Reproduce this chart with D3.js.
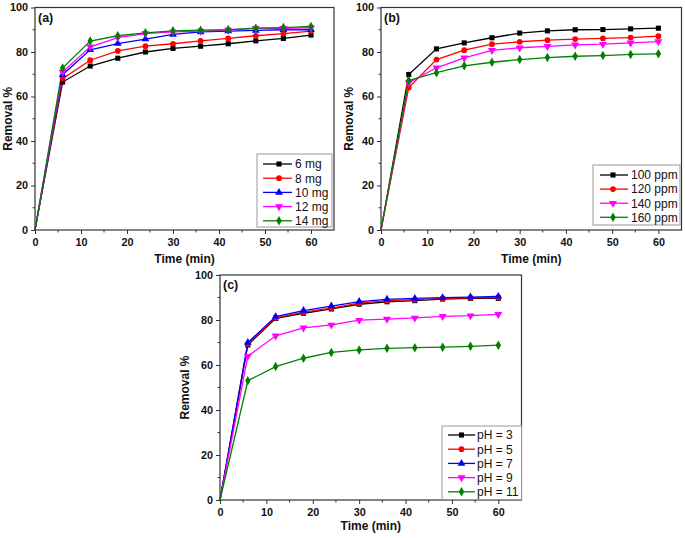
<!DOCTYPE html>
<html><head><meta charset="utf-8">
<script src="https://cdn.jsdelivr.net/npm/d3@7"></script>
<style>body{margin:0;background:#fff}svg{display:block}text{font-family:"Liberation Sans",Arial,sans-serif}</style>
</head><body>
<script>
const time = [0, 6, 12, 18, 24, 30, 36, 42, 48, 54, 60];
const xTicks = [0, 10, 20, 30, 40, 50, 60];
const yTicks = [0, 20, 40, 60, 80, 100];

// Panel (a): adsorbent dose
const labelsA = ["6 mg", "8 mg", "10 mg", "12 mg", "14 mg"];
const mg6  = [0, 66.5, 73.7, 77.2, 80.0, 81.6, 82.6, 83.7, 85.0, 86.1, 87.6];
const mg8  = [0, 68.0, 76.3, 80.5, 82.6, 83.7, 85.0, 86.1, 87.3, 88.3, 89.4];
const mg10 = [0, 69.8, 81.0, 83.8, 85.8, 87.9, 89.0, 89.4, 89.7, 90.0, 90.0];
const mg12 = [0, 71.0, 82.3, 86.5, 88.3, 89.0, 89.4, 89.8, 90.6, 90.6, 90.9];
const mg14 = [0, 72.8, 84.9, 87.3, 88.6, 89.5, 89.8, 90.1, 90.7, 91.0, 91.5];

// Panel (b): initial concentration
const labelsB = ["100 ppm", "120 ppm", "140 ppm", "160 ppm"];
const ppm100 = [0, 69.9, 81.4, 84.1, 86.4, 88.5, 89.5, 90.0, 90.1, 90.4, 90.7];
const ppm120 = [0, 64.0, 76.6, 80.8, 83.5, 84.6, 85.3, 85.8, 86.1, 86.5, 87.1];
const ppm140 = [0, 66.2, 72.9, 77.4, 80.7, 81.9, 82.5, 83.2, 83.5, 84.1, 84.7];
const ppm160 = [0, 67.2, 70.7, 73.8, 75.4, 76.6, 77.5, 78.1, 78.4, 78.9, 79.2];

// Panel (c): pH
const labelsC = ["pH = 3", "pH = 5", "pH = 7", "pH = 9", "pH = 11"];
const pH3  = [0, 68.9, 80.7, 83.0, 84.9, 87.0, 88.1, 88.6, 89.3, 89.6, 89.6];
const pH5  = [0, 69.4, 81.0, 83.5, 85.3, 87.5, 88.6, 89.0, 89.6, 89.8, 90.0];
const pH7  = [0, 70.0, 81.5, 84.2, 86.2, 88.2, 89.2, 89.6, 89.9, 90.2, 90.5];
const pH9  = [0, 63.9, 73.0, 76.5, 77.8, 79.9, 80.4, 80.9, 81.6, 81.9, 82.5];
const pH11 = [0, 53.0, 59.3, 63.0, 65.6, 66.7, 67.4, 67.7, 67.9, 68.3, 68.8];

const colors = ["#000000", "#ff0000", "#0000ff", "#ff00ff", "#008000"];
const symbols = [d3.symbolSquare, d3.symbolCircle, d3.symbolTriangle, "down", d3.symbolDiamond];
const FONT = "'Liberation Sans', Arial, sans-serif";

const svg = d3.select("body").append("svg").attr("width", 685).attr("height", 538);

function marker(g, idx, x, y) {
  const s = symbols[idx];
  let p;
  if (s === "down") {
    p = g.append("path").attr("d", d3.symbol(d3.symbolTriangle, 28)()).attr("transform", `translate(${x},${y}) rotate(180)`);
  } else {
    p = g.append("path").attr("d", d3.symbol(s, 26)()).attr("transform", `translate(${x},${y})`);
  }
  p.attr("fill", colors[idx]).attr("stroke", "none");
}

function panel(cfg) {
  const {left, right, top, bottom, series, styles, labels, tag, legend, ytitleX, xtitleY} = cfg;
  const x = d3.scaleLinear().domain([0, 65]).range([left, right]);
  const y = d3.scaleLinear().domain([0, 100]).range([bottom, top]);
  const g = svg.append("g");

  const xMinor = d3.range(5, 65, 10);
  const yMinor = d3.range(10, 100, 20);
  g.selectAll(null).data(xMinor).join("line")
    .attr("x1", d => x(d)).attr("x2", d => x(d)).attr("y1", bottom).attr("y2", bottom + 2.5)
    .attr("stroke", "#333").attr("stroke-width", 1);
  g.selectAll(null).data(yMinor).join("line")
    .attr("y1", d => y(d)).attr("y2", d => y(d)).attr("x1", left).attr("x2", left - 2.5)
    .attr("stroke", "#333").attr("stroke-width", 1);

  const xa = g.append("g").attr("transform", `translate(0,${bottom})`)
    .call(d3.axisBottom(x).tickValues(xTicks).tickSize(4).tickSizeOuter(0).tickPadding(4));
  const ya = g.append("g").attr("transform", `translate(${left},0)`)
    .call(d3.axisLeft(y).tickValues(yTicks).tickSize(4).tickSizeOuter(0).tickPadding(3));
  [xa, ya].forEach(a => {
    a.select(".domain").remove();
    a.selectAll("line").attr("stroke", "#333");
    a.selectAll("text").attr("font-size", 10.8).attr("font-weight", "bold").attr("fill", "#111")
      .attr("font-family", FONT);
  });

  g.append("rect").attr("x", left).attr("y", top).attr("width", right - left).attr("height", bottom - top)
    .attr("fill", "none").attr("stroke", "#333").attr("stroke-width", 1.2);

  const line = d3.line().x((d, i) => x(time[i])).y(d => y(d));
  series.forEach((s, k) => {
    g.append("path").datum(s).attr("d", line).attr("fill", "none")
      .attr("stroke", colors[styles[k]]).attr("stroke-width", 1.3);
  });
  series.forEach((s, k) => {
    s.forEach((v, i) => { if (i > 0) marker(g, styles[k], x(time[i]), y(v)); });
  });

  g.append("text").attr("x", left + 3).attr("y", top + 14).text(tag)
    .attr("font-size", 12.5).attr("font-weight", "bold").attr("fill", "#111");

  g.append("text").attr("transform", `translate(${ytitleX},${(top + bottom) / 2}) rotate(-90)`)
    .attr("text-anchor", "middle").attr("font-size", 12).attr("font-weight", "bold").attr("fill", "#111")
    .text("Removal %");
  g.append("text").attr("x", (left + right) / 2).attr("y", xtitleY)
    .attr("text-anchor", "middle").attr("font-size", 12).attr("font-weight", "bold").attr("fill", "#111")
    .text("Time (min)");

  const L = legend;
  g.append("rect").attr("x", L.x0).attr("y", L.y0).attr("width", L.x1 - L.x0).attr("height", L.y1 - L.y0)
    .attr("fill", "#fff").attr("stroke", "#999").attr("stroke-width", 1);
  labels.forEach((lab, k) => {
    const yy = L.firstY + k * L.step;
    g.append("line").attr("x1", L.lx0).attr("x2", L.lx1).attr("y1", yy).attr("y2", yy)
      .attr("stroke", colors[styles[k]]).attr("stroke-width", 1.3);
    marker(g, styles[k], L.mx, yy);
    g.append("text").attr("x", L.tx).attr("y", yy + 4.3).text(lab)
      .attr("font-size", 12).attr("fill", "#111");
  });
}

panel({left: 35, right: 334, top: 7.5, bottom: 230, tag: "(a)", ytitleX: 12, xtitleY: 263,
  series: [mg6, mg8, mg10, mg12, mg14], styles: [0, 1, 2, 3, 4], labels: labelsA,
  legend: {x0: 257, x1: 332, y0: 154, y1: 227, firstY: 164, step: 14.2, lx0: 263, lx1: 292, mx: 279, tx: 295}});

panel({left: 381, right: 681.5, top: 7.5, bottom: 230, tag: "(b)", ytitleX: 353, xtitleY: 263,
  series: [ppm100, ppm120, ppm140, ppm160], styles: [0, 1, 3, 4], labels: labelsB,
  legend: {x0: 593, x1: 680, y0: 165, y1: 225, firstY: 175, step: 14.1, lx0: 600, lx1: 628, mx: 613, tx: 631}});

panel({left: 220, right: 521.5, top: 275, bottom: 500, tag: "(c)", ytitleX: 189, xtitleY: 530,
  series: [pH3, pH5, pH7, pH9, pH11], styles: [0, 1, 2, 3, 4], labels: labelsC,
  legend: {x0: 442, x1: 521.5, y0: 426, y1: 499.5, firstY: 435, step: 14.2, lx0: 448, lx1: 475, mx: 461.5, tx: 477}});
</script>
</body></html>
